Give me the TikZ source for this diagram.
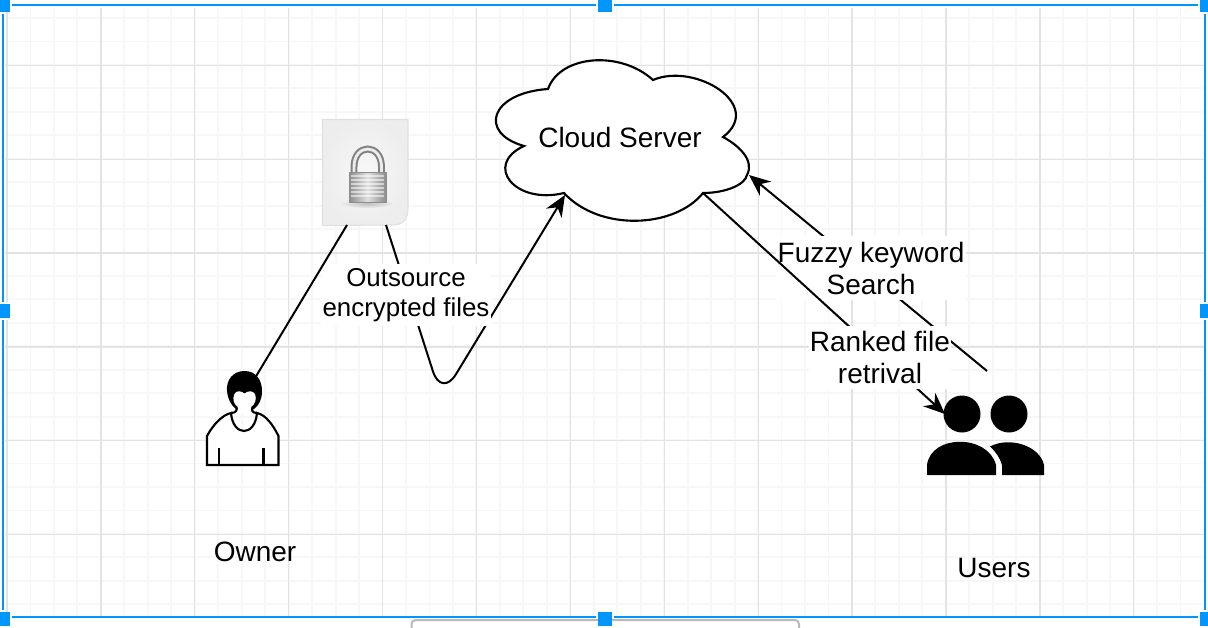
\documentclass[tikz,border=0pt]{standalone}
\usepackage{fontspec}
\setmainfont{Liberation Sans}
\usetikzlibrary{arrows.meta,shadings}
\definecolor{gridmajor}{HTML}{E3E3E3}
\definecolor{gridminor}{HTML}{F7F7F7}
\definecolor{selblue}{HTML}{0096FF}
\tikzset{
  px/.style={x=0.75pt,y=-0.75pt},
  ink/.style={draw=black,line width=1.6pt},
  conn/.style={draw=black,line width=1.5pt},
  tip/.style={-{Stealth[length=16pt,width=13.5pt]}},
  big/.style={font=\fontsize{21}{24}\selectfont,align=center,inner sep=0pt},
  labelbox/.style={big,fill=white,inner xsep=1pt,inner ysep=4pt},
  smallbox/.style={labelbox,font=\fontsize{19.4}{23}\selectfont,inner ysep=3pt},
  handle/.style={fill=selblue,draw=none},
  sel/.style={draw=selblue,line width=1.5pt}
}
\begin{document}
\begin{tikzpicture}[px]
\useasboundingbox (0,0) rectangle (1208,628);
\begin{scope}
\clip (0,0) rectangle (1208,628);
\fill[white] (0,0) rectangle (1208,628);
% grid
\foreach \i in {0,...,51} {
  \draw[gridminor,line width=1.4pt] ({7+23.47*\i},8) -- ({7+23.47*\i},616);
}
\foreach \i in {0,...,25} {
  \draw[gridminor,line width=1.4pt] (5,{18+23.45*\i}) -- (1204,{18+23.45*\i});
}
\foreach \i in {0,...,12} {
  \draw[gridmajor,line width=1pt] ({7+93.9*\i},8) -- ({7+93.9*\i},616);
}
\foreach \i in {0,...,5} {
  \draw[gridmajor,line width=1pt] (5,{65.5+93.8*\i}) -- (1204,{65.5+93.8*\i});
}

% document with lock
\node[inner sep=0pt,minimum width=0pt] (doc) at (365,172.5) {};
\path[draw=black!12,line width=0.8pt,inner color=white!97!black,outer color=black!7]
  (322.5,119.5) -- (408,119.5) -- (408,208) .. controls (408,220) and (403,225) .. (392,225) -- (322.5,225.5) -- cycle;
\shade[inner color=black!30,outer color=white!93!black,opacity=.8] (367,203.5) ellipse (26 and 4.5);
% shackle
\draw[black!50,line width=5.2pt] (354,176) -- (354,167) .. controls (354,143) and (381.5,143) .. (381.5,167) -- (381.5,176);
\draw[black!8,line width=2.2pt] (354,176) -- (354,167) .. controls (354,143) and (381.5,143) .. (381.5,167) -- (381.5,176);
% lock body
\shade[left color=black!45,right color=black!45,middle color=black!12] (349,172.5) rectangle (386,202);
\foreach \yy in {176,180,184,188,192,196} {
  \draw[white,line width=1.2pt,opacity=.55] (351,\yy) -- (384,\yy);
}
\draw[black!45,line width=.5pt] (349,172.5) rectangle (386,202);

% cloud
\coordinate (cloudIn) at (565,195);
\coordinate (cloudOut) at (703,193);
\coordinate (cloudFuzzy) at (749,175);
\path[ink,fill=white,line join=miter]
  (548,89) .. controls (560,55) and (620,50) .. (653,80)
  .. controls (695,62) and (765,105) .. (723,137)
  .. controls (738,145) and (755,160) .. (747,175)
  .. controls (745,185) and (725,193) .. (703,193)
  .. controls (675,228) and (600,232) .. (564,193)
  .. controls (515,205) and (483,165) .. (524,146)
  .. controls (478,133) and (490,93) .. (548,89) -- cycle;
\node[big] (cloudLabel) at (620,137) {Cloud Server};

% owner
\coordinate (ownerTop) at (255,378);
\coordinate (docOwner) at (347,225);
\coordinate (docOut) at (386,225);
\path[ink,fill=white] (207,465) -- (207,436) .. controls (213,425) and (222,415) .. (231,413)
  .. controls (233,437) and (255,437) .. (257,413)
  .. controls (266,415) and (273,425) .. (278.5,436) -- (278.5,465) -- cycle;
\draw[ink] (219,448) -- (219,465) (263.5,448) -- (263.5,465);
\path[fill=black] (244.5,371) .. controls (233,371) and (226,380) .. (227,391)
  .. controls (228,400) and (231,405) .. (236,409) -- (254,409)
  .. controls (259,405) and (262,400) .. (262,391)
  .. controls (262,380) and (256,371) .. (244.5,371) -- cycle;
\path[fill=white] (244.5,393.5) .. controls (241,390.5) and (236,390.5) .. (234.5,394)
  .. controls (232,399) and (234,404) .. (237.5,407)
  .. controls (238.5,409) and (237,412) .. (234,414) -- (254,414)
  .. controls (252,412) and (250.5,409) .. (251.5,407)
  .. controls (255,404) and (257,399) .. (255,394)
  .. controls (253,390.5) and (248,390.5) .. (244.5,393.5) -- cycle;
\draw[ink] (236,406) .. controls (238,410) and (236,413) .. (231,413);
\draw[ink] (253,406) .. controls (251,410) and (252,413) .. (257,413);
\node[big] (ownerLabel) at (255,552) {Owner};

% users
\coordinate (usersFuzzy) at (987,371);
\coordinate (usersIn) at (945,414);
\fill[black] (962,414) circle (18.5);
\fill[black] (1009,414) circle (18.5);
\fill[black] (927,475) -- (927,465) .. controls (931,434) and (988,434) .. (996,465) -- (996,475) -- cycle;
\fill[black] (990,446.5) .. controls (1010,436) and (1040,446) .. (1044,465) -- (1044,475) -- (1002,475) -- (1002,465) .. controls (1000,458) and (996,452) .. (990,446.5) -- cycle;
\node[big] (usersLabel) at (994,568) {Users};

% connectors and labels
\draw[conn,tip,rounded corners=21pt] (docOut) -- (441.5,398) -- (cloudIn);
\node[smallbox] (outLabel) at (406,295) {Outsource\\encrypted files};
\draw[conn] (ownerTop) -- (docOwner);
\draw[conn,tip] (usersFuzzy) -- (cloudFuzzy);
\node[labelbox] (fuzzyLabel) at (871,268) {Fuzzy keyword\\Search};
\draw[conn,tip] (cloudOut) -- (usersIn);
\node[labelbox] (rankLabel) at (880,357.5) {Ranked file\\retrival};
\end{scope}

% selection frame
\draw[gray!55,line width=1.5pt,fill=white,rounded corners=3pt] (411.5,620) -- (411.5,640) -- (799,640) -- (799,620) -- cycle;
\draw[sel] (12,5) -- (596,5) (614,5) -- (1198,5);
\draw[sel] (12,617) -- (596,617) (614,617) -- (1198,617);
\draw[sel] (3,14) -- (3,610);
\draw[sel] (1205,14) -- (1205,302) (1205,320) -- (1205,610);
\fill[white] (0,302) rectangle (10,320);
\foreach \ax/\ay/\bx/\by in {0/0/10/12, 598/0/612/12, 1200/0/1208/12, 0/304/10/318, 1200/304/1208/318, 0/612/10/626, 598/612/612/626, 1200/612/1208/626} {
  \fill[handle] (\ax,\ay) rectangle (\bx,\by);
}
\end{tikzpicture}
\end{document}
